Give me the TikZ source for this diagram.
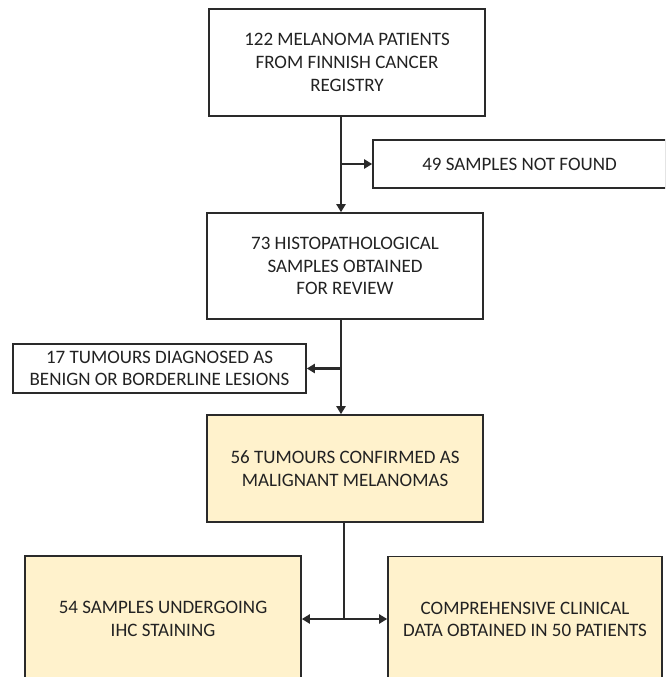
\documentclass[tikz,border=0pt]{standalone}
\usepackage{fontspec}
\setmainfont{Carlito}
\usetikzlibrary{arrows.meta}
\definecolor{boxfill}{HTML}{FFF2CC}
\definecolor{lineclr}{HTML}{2A2A2A}
\definecolor{txtclr}{HTML}{222222}
\begin{document}
\begin{tikzpicture}[x=1pt,y=-1pt,
  stepbox/.style={draw=lineclr, line width=1.6pt, fill=white, align=center, text=txtclr,
    font=\fontsize{19}{22.7}\selectfont, inner sep=0pt},
  ybox/.style={stepbox, fill=boxfill},
  conn/.style={draw=lineclr, line width=2.5pt},
  arr/.style={conn, -{Triangle[length=8pt,width=9pt]}},
  darr/.style={conn, {Triangle[length=8pt,width=9pt]}-{Triangle[length=8pt,width=9pt]}}
]
\useasboundingbox (0,0) rectangle (665,677);
\begin{scope}
\clip (0,0) rectangle (665,677);
\node[stepbox, minimum width=276pt, minimum height=107pt] (b1) at (347,62.5)
  {122 MELANOMA PATIENTS\\FROM FINNISH CANCER\\REGISTRY};
\node[stepbox, minimum width=293pt, minimum height=48pt] (b49) at (519.5,164)
  {49 SAMPLES NOT FOUND};
\node[stepbox, minimum width=276pt, minimum height=106pt] (b2) at (345,266)
  {73 HISTOPATHOLOGICAL\\SAMPLES OBTAINED\\FOR REVIEW};
\node[stepbox, minimum width=293pt, minimum height=49pt] (b17) at (159.5,368.5)
  {17 TUMOURS DIAGNOSED AS\\BENIGN OR BORDERLINE LESIONS};
\node[ybox, minimum width=276pt, minimum height=107pt] (b56) at (345,468.5)
  {56 TUMOURS CONFIRMED AS\\MALIGNANT MELANOMAS};
\node[ybox, minimum width=276pt, minimum height=126pt] (b54) at (163,619)
  {54 SAMPLES UNDERGOING\\IHC STAINING};
\node[ybox, minimum width=274pt, minimum height=126pt] (bcl) at (525,619.5)
  {COMPREHENSIVE CLINICAL\\DATA OBTAINED IN 50 PATIENTS};

\coordinate (j1) at (341,164);
\coordinate (j2) at (341,368.5);
\coordinate (j3) at (344,619);

\draw[arr] (b1.south -| j1) -- (b2.north -| j1);
\draw[arr] (j1) -- (b49.west |- j1);
\draw[arr] (b2.south -| j2) -- (b56.north -| j2);
\draw[arr] (j2) -- (b17.east |- j2);
\draw[conn] (b56.south -| j3) -- (j3);
\draw[darr] (b54.east |- j3) -- (bcl.west |- j3);
\end{scope}
\end{tikzpicture}
\end{document}
